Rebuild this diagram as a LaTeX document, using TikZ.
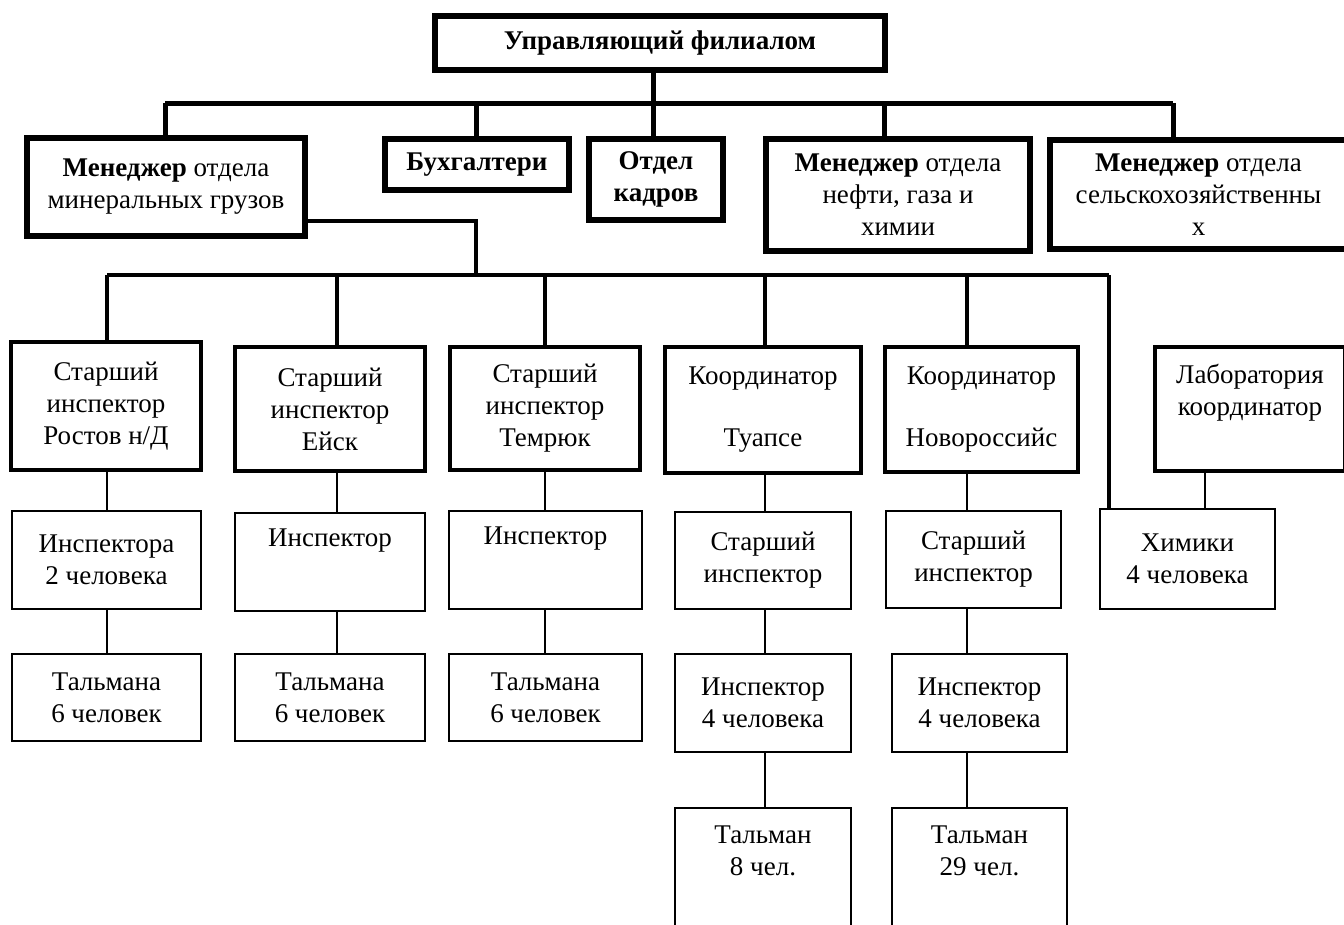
\documentclass[tikz,border=0pt]{standalone}
\usepackage{fontspec}
\setmainfont{Liberation Serif}

\begin{document}
\begin{tikzpicture}[x=1pt, y=-1pt,
  every node/.style={font=\fontsize{27}{32}\selectfont, align=center, inner sep=0pt},
  topbox/.style={draw, line width=6pt},
  midbox/.style={draw, line width=4pt},
  thinbox/.style={draw, line width=2pt},
  bus/.style={line width=5pt},
  link/.style={line width=4pt},
  wire/.style={line width=2pt}]
  \useasboundingbox (0,0) rectangle (1344,924);
  \clip (0,0) rectangle (1344,924);

  % head and departments
  \node[topbox, minimum width=450pt, minimum height=54pt] (top) at (660,43) {\textbf{Управляющий филиалом}};
  \node[topbox, minimum width=278pt, minimum height=98pt] (mgr1) at (166,187) {\textbf{Менеджер} отдела\\минеральных грузов};
  \node[topbox, minimum width=184pt, minimum height=51pt] (buh) at (477,164.5) {\textbf{Бухгалтери}};
  \node[topbox, minimum width=134pt, minimum height=81pt] (kadr) at (656,179.5) {\textbf{Отдел}\\\textbf{кадров}};
  \node[topbox, minimum width=264pt, minimum height=112pt] (mgr2) at (898,195) {\textbf{Менеджер} отдела\\нефти, газа и\\химии};
  \node[topbox, minimum width=297pt, minimum height=109pt] (mgr3) at (1198.5,194.5) {\textbf{Менеджер} отдела\\сельскохозяйственны\\х};

  \coordinate (d1) at (165,103);
  \coordinate (d2) at (476,103);
  \coordinate (d3) at (653,103);
  \coordinate (d4) at (884,103);
  \coordinate (d5) at (1173,103);
  \draw[bus] (d1) -- (d5);
  \draw[bus] (top.south -| d3) -- (kadr.north -| d3);
  \draw[bus] (d1) -- (mgr1.north -| d1);
  \draw[bus] (d2) -- (buh.north -| d2);
  \draw[bus] (d4) -- (mgr2.north -| d4);
  \draw[bus] (d5) -- (mgr3.north -| d5);

  % senior inspectors and coordinators
  \node[midbox, minimum width=190pt, minimum height=128pt] (ros) at (106,406) {Старший\\инспектор\\Ростов н/Д};
  \node[midbox, minimum width=190pt, minimum height=124pt] (eisk) at (330,409) {Старший\\инспектор\\Ейск};
  \node[midbox, minimum width=190pt, minimum height=123pt] (tem) at (545,408.5) {Старший\\инспектор\\Темрюк};
  \node[midbox, minimum width=196pt, minimum height=126pt] (tua) at (763,410) {Координатор\\[30pt]Туапсе};
  \node[midbox, minimum width=193pt, minimum height=125pt] (nov) at (981.5,409.5) {Координатор\\[30pt]Новороссийс};
  \node[midbox, minimum width=190pt, minimum height=124pt] (lab) at (1250,409) {Лаборатория\\координатор\\[6pt]~};

  \coordinate (e0) at (476,275);
  \coordinate (e1) at (107,275);
  \coordinate (e2) at (337,275);
  \coordinate (e3) at (545,275);
  \coordinate (e4) at (765,275);
  \coordinate (e5) at (967,275);
  \coordinate (e6) at (1109,275);
  \coordinate (f6) at (1205,275);
  \draw[link] ([yshift=-34pt]mgr1.east) -| (e0);
  \draw[link] (e1) -- (e6);
  \draw[link] (e1) -- (ros.north -| e1);
  \draw[link] (e2) -- (eisk.north -| e2);
  \draw[link] (e3) -- (tem.north -| e3);
  \draw[link] (e4) -- (tua.north -| e4);
  \draw[link] (e5) -- (nov.north -| e5);

  % inspectors
  \node[thinbox, minimum width=189pt, minimum height=98pt] (ins1) at (106.5,560) {Инспектора\\2 человека};
  \node[thinbox, minimum width=190pt, minimum height=98pt] (ins2) at (330,562) {Инспектор\\[16pt]~};
  \node[thinbox, minimum width=193pt, minimum height=98pt] (ins3) at (545.5,560) {Инспектор\\[16pt]~};
  \node[thinbox, minimum width=176pt, minimum height=97pt] (sen4) at (763,560.5) {Старший\\инспектор};
  \node[thinbox, minimum width=175pt, minimum height=97pt] (sen5) at (973.5,559.5) {Старший\\инспектор};
  \node[thinbox, minimum width=175pt, minimum height=100pt] (chem) at (1187.5,559) {Химики\\4 человека};
  \draw[link] (e6) -- (chem.north -| e6);

  \node[thinbox, minimum width=189pt, minimum height=87pt] (tal1) at (106.5,697.5) {Тальмана\\6 человек};
  \node[thinbox, minimum width=190pt, minimum height=87pt] (tal2) at (330,697.5) {Тальмана\\6 человек};
  \node[thinbox, minimum width=193pt, minimum height=87pt] (tal3) at (545.5,697.5) {Тальмана\\6 человек};
  \node[thinbox, minimum width=176pt, minimum height=98pt] (ins4) at (763,703) {Инспектор\\4 человека};
  \node[thinbox, minimum width=175pt, minimum height=98pt] (ins5) at (979.5,703) {Инспектор\\4 человека};

  % tallymen, boxes run off the page
  \node[minimum width=176pt, minimum height=86pt] (tal4) at (763,851) {Тальман\\8 чел.};
  \node[minimum width=175pt, minimum height=86pt] (tal5) at (979.5,851) {Тальман\\29 чел.};
  \draw[wire] ([yshift=-60pt]tal4.south west) -- (tal4.north west) -- (tal4.north east) -- ([yshift=-60pt]tal4.south east);
  \draw[wire] ([yshift=-60pt]tal5.south west) -- (tal5.north west) -- (tal5.north east) -- ([yshift=-60pt]tal5.south east);

  \draw[wire] (ros.south -| e1) -- (ins1.north -| e1);
  \draw[wire] (ins1.south -| e1) -- (tal1.north -| e1);
  \draw[wire] (eisk.south -| e2) -- (ins2.north -| e2);
  \draw[wire] (ins2.south -| e2) -- (tal2.north -| e2);
  \draw[wire] (tem.south -| e3) -- (ins3.north -| e3);
  \draw[wire] (ins3.south -| e3) -- (tal3.north -| e3);
  \draw[wire] (tua.south -| e4) -- (sen4.north -| e4);
  \draw[wire] (sen4.south -| e4) -- (ins4.north -| e4);
  \draw[wire] (ins4.south -| e4) -- (tal4.north -| e4);
  \draw[wire] (nov.south -| e5) -- (sen5.north -| e5);
  \draw[wire] (sen5.south -| e5) -- (ins5.north -| e5);
  \draw[wire] (ins5.south -| e5) -- (tal5.north -| e5);
  \draw[wire] (lab.south -| f6) -- (chem.north -| f6);
\end{tikzpicture}
\end{document}
